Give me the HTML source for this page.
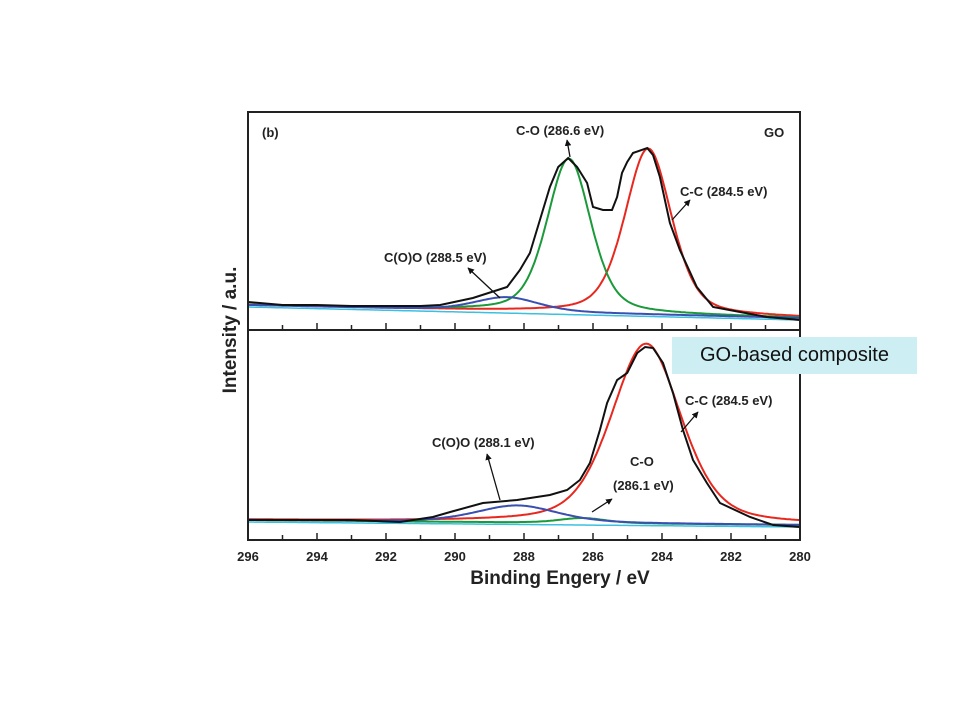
<!DOCTYPE html>
<html><head><meta charset="utf-8"><style>
body{margin:0;background:#fff;width:960px;height:720px;overflow:hidden;font-family:"Liberation Sans",Arial,sans-serif}
svg{position:absolute;left:0;top:0}
#box{position:absolute;left:672px;top:337px;width:245px;height:37px;background:#cdeef2;font-size:20px;line-height:37px;text-align:center;color:#111}
</style></head><body>
<svg id="chart" width="960" height="720">
<defs><marker id="ar" viewBox="0 0 10 10" refX="9" refY="5" markerWidth="5" markerHeight="5" orient="auto"><path d="M0,0L10,5L0,10z" fill="#111"/></marker></defs>
<g id="plot"></g>
<g font-weight="bold" font-size="13" fill="#222">
<text x="262" y="137">(b)</text>
<text x="764" y="137">GO</text>
<text x="516" y="135">C-O (286.6 eV)</text>
<text x="680" y="196">C-C (284.5 eV)</text>
<text x="384" y="262">C(O)O (288.5 eV)</text>
<text x="685" y="405">C-C (284.5 eV)</text>
<text x="432" y="447">C(O)O (288.1 eV)</text>
<text x="630" y="466">C-O</text>
<text x="613" y="490">(286.1 eV)</text>
</g>
<g stroke="#111" stroke-width="1.3" marker-end="url(#ar)">
<line x1="570" y1="157" x2="567" y2="140"/>
<line x1="672" y1="220" x2="690" y2="200"/>
<line x1="500" y1="298" x2="468" y2="268"/>
<line x1="681" y1="432" x2="698" y2="412"/>
<line x1="500" y1="500" x2="487" y2="454"/>
<line x1="592" y1="512" x2="612" y2="499"/>
</g>
<text x="560" y="584" text-anchor="middle" font-size="19" font-weight="bold" fill="#222">Binding Engery / eV</text>
<text transform="translate(236,330) rotate(-90)" text-anchor="middle" font-size="19" font-weight="bold" fill="#222">Intensity / a.u.</text>
</svg>
<div id="box">GO-based composite</div>
<script>
// top panel (GO)
const topDataX=[296,295,294,293,292,291,290.43,289.48,288.49,288.12,287.83,287.54,287.25,287.01,286.72,286.46,286.17,286.0,285.71,285.45,285.3,285.16,285.01,284.84,284.43,284.26,284.06,283.77,283.48,282.99,282.52,281.74,280.96,280];
const topDataY=[16,13,13,12,12,12,13,20,31,48,65,98,131,151,160,151,135,111,108,108,121,145,156,165,170,163,141,95,68,31,11,6,1,-2];
const topCenters=[284.4,286.7,288.5];
const topHeights=[166,154,14];
const topFwhm=[1.6,1.5,2.2];
const topBg=[13,0];
// bottom panel (composite)
const botDataX=[296,294.49,293.04,291.59,290.64,290.14,289.19,288.2,287.25,286.75,286.38,286.09,285.8,285.59,285.3,285.01,284.72,284.49,284.26,283.97,283.68,283.39,283.1,282.7,282.32,281.45,280.78,280];
const botDataY=[8,8,8,6,11,16,25,28,33,38,48,65,98,125,148,155,175,181,180,165,135,98,68,45,25,11,3,1];
const botCenters=[284.46,286.3,288.2];
const botHeights=[180,5,17];
const botFwhm=[2.4,1.6,2.8];
const botBg=[8,3];
const ticks=[296,294,292,290,288,286,284,282,280];
const compColors=['#e8281e','#1a9a3a','#3a4fb0'];
const compNames=['cc','co','cooo'];

const X0=248,X1=800;
const xs=v=>X0+(296-v)/16*(X1-X0);
const g=document.getElementById('plot');
const NS='http://www.w3.org/2000/svg';
function mk(t,a){const e=document.createElementNS(NS,t);for(const k in a)e.setAttribute(k,a[k]);g.appendChild(e);return e;}
function shape(x,c,h,w){const d=(x-c)/(w/2);return h*(0.6*Math.exp(-Math.LN2*d*d)+0.4/(1+d*d));}
function panel(name,y0,dx,dy,cs,hs,ws,bg){
  const ys=v=>y0-v;
  const bgf=x=>bg[1]+(bg[0]-bg[1])*(x-280)/16;
  const grid=[];for(let x=296;x>=280-1e-9;x-=0.05)grid.push(x);
  let p=mk('path',{d:'M'+grid.map(x=>xs(x).toFixed(1)+','+ys(bgf(x)-2).toFixed(1)).join('L'),fill:'none',stroke:'#3cc0e0','stroke-width':1.5});
  
  
  cs.forEach((c,i)=>{
    const e=mk('path',{d:'M'+grid.map(x=>xs(x).toFixed(1)+','+ys(bgf(x)+shape(x,c,hs[i],ws[i])).toFixed(1)).join('L'),fill:'none',stroke:compColors[i],'stroke-width':2});
    
    
  });
  const b=mk('path',{d:'M'+dx.map((x,i)=>xs(x).toFixed(1)+','+ys(dy[i]).toFixed(1)).join('L'),fill:'none',stroke:'#111','stroke-width':2});
  
  
}
panel('top',318,topDataX,topDataY,topCenters,topHeights,topFwhm,topBg);
panel('bottom',528,botDataX,botDataY,botCenters,botHeights,botFwhm,botBg);
// frames
let f=mk('rect',{x:X0,y:112,width:X1-X0,height:428,fill:'none',stroke:'#222','stroke-width':2});


let dv=mk('line',{x1:X0,x2:X1,y1:330,y2:330,stroke:'#222','stroke-width':2});


for(let v=296;v>=280;v--){
  const major=v%2===0,len=major?7:5;
  [330,540].forEach(yb=>{
    const t=mk('line',{x1:xs(v),x2:xs(v),y1:yb,y2:yb-len,stroke:'#222','stroke-width':1.5});
    
    
  });
}
ticks.forEach(v=>{
  const t=mk('text',{x:xs(v),y:561,'text-anchor':'middle','font-size':13,'font-weight':'bold',fill:'#222'});
  t.textContent=v;
  
  
});
</script>
</body></html>
